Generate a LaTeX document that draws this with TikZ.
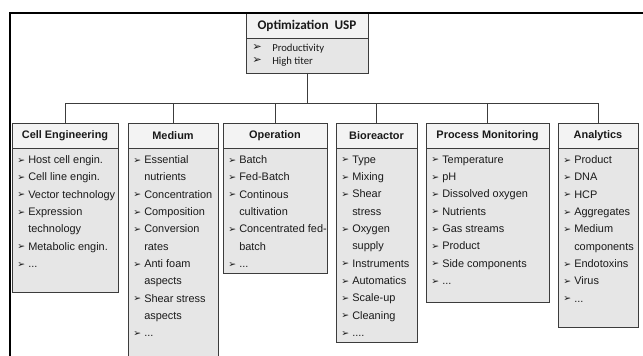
\documentclass[tikz,border=0pt]{standalone}
\usepackage{fontspec}
\setmainfont{Liberation Sans}
\newfontfamily\calfont{Carlito}
\newfontfamily\symfont{DejaVu Sans}
\usepackage{tikz}
\usetikzlibrary{calc,positioning}
\definecolor{ink}{HTML}{1A1A1A}
\definecolor{edge}{HTML}{3C3C3C}
\definecolor{headfill}{HTML}{F3F3F3}
\definecolor{bodyfill}{HTML}{E6E6E6}
\newcommand{\itm}{\makebox[8.25pt][l]{\raisebox{0.2pt}{\symfont\fontsize{7}{7}\selectfont\char"27A2}}}
\newcommand{\ind}{\hspace*{8.25pt}}
\newcommand{\topitm}{\makebox[15pt][l]{\raisebox{0.2pt}{\symfont\fontsize{8.5}{8.5}\selectfont\char"27A2}}}
\tikzset{
  head/.style={draw=edge, fill=headfill, line width=0.7pt, inner sep=0pt, outer sep=0pt,
    minimum height=18.75pt, font=\bfseries\fontsize{8.2}{10}\selectfont, text=ink},
  body/.style={draw=edge, fill=bodyfill, line width=0.7pt, inner sep=0pt, outer sep=0pt},
  items/.style={inner sep=0pt, align=left, text=ink, font=\fontsize{8.2}{13}\selectfont},
  link/.style={draw=edge, line width=0.7pt},
  frame/.style={draw=black, line width=1.5pt}
}

\begin{document}
\begin{tikzpicture}[x=0.75pt, y=-0.75pt]
  \useasboundingbox (0,0) rectangle (643,356);

  % top box
  \node[head, minimum width=91.5pt, font=\calfont\bfseries\fontsize{9.9}{11}\selectfont] (usp) at (307,25.5) {Optimization\ \ USP};
  \node[body, minimum width=91.5pt, minimum height=26.25pt, below=0pt of usp] (usp-b) {};
  \node[items, font=\calfont\fontsize{8}{9.75}\selectfont, below right=4pt and 4.5pt of usp-b.north west] (usp-t)
    {\topitm Productivity\\ \topitm High titer};

  % second level
  \node[head, minimum width=79.5pt] (ce) at (65,135.5) {Cell Engineering};
  \node[body, minimum width=79.5pt, minimum height=108pt, below=0pt of ce] (ce-b) {};
  \node[items, below right=5.5pt and 3.75pt of ce-b.north west] (ce-t)
    {\itm Host cell engin.\\ \itm Cell line engin.\\ \itm Vector technology\\ \itm Expression\\
     \ind technology\\ \itm Metabolic engin.\\ \itm ...};

  \node[head, minimum width=67.5pt] (med) at (173,135.5) {Medium};
  \node[body, minimum width=67.5pt, minimum height=159pt, below=0pt of med] (med-b) {};
  \node[items, below right=5.5pt and 3.75pt of med-b.north west] (med-t)
    {\itm Essential\\ \ind nutrients\\ \itm Concentration\\ \itm Composition\\ \itm Conversion\\
     \ind rates\\ \itm Anti foam\\ \ind aspects\\ \itm Shear stress\\ \ind aspects\\ \itm ...};

  \node[head, minimum width=78pt] (op) at (275,135.5) {Operation};
  \node[body, minimum width=78pt, minimum height=93.75pt, below=0pt of op] (op-b) {};
  \node[items, below right=5.5pt and 3.75pt of op-b.north west] (op-t)
    {\itm Batch\\ \itm Fed-Batch\\ \itm Continous\\ \ind cultivation\\ \itm Concentrated fed-\\
     \ind batch\\ \itm ...};

  \node[head, minimum width=60.75pt] (bio) at (376.5,135.5) {Bioreactor};
  \node[body, minimum width=60.75pt, minimum height=145.5pt, below=0pt of bio] (bio-b) {};
  \node[items, below right=5.5pt and 3.75pt of bio-b.north west] (bio-t)
    {\itm Type\\ \itm Mixing\\ \itm Shear\\ \ind stress\\ \itm Oxygen\\ \ind supply\\
     \itm Instruments\\ \itm Automatics\\ \itm Scale-up\\ \itm Cleaning\\ \itm ....};

  \node[head, minimum width=92.25pt] (pm) at (487.5,135.5) {Process Monitoring};
  \node[body, minimum width=92.25pt, minimum height=115.5pt, below=0pt of pm] (pm-b) {};
  \node[items, below right=5.5pt and 3.75pt of pm-b.north west] (pm-t)
    {\itm Temperature\\ \itm pH\\ \itm Dissolved oxygen\\ \itm Nutrients\\ \itm Gas streams\\
     \itm Product\\ \itm Side components\\ \itm ...};

  \node[head, minimum width=60pt] (ana) at (598,135.5) {Analytics};
  \node[body, minimum width=60pt, minimum height=134.25pt, below=0pt of ana] (ana-b) {};
  \node[items, below right=5.5pt and 3.75pt of ana-b.north west] (ana-t)
    {\itm Product\\ \itm DNA\\ \itm HCP\\ \itm Aggregates\\ \itm Medium\\ \ind components\\
     \itm Endotoxins\\ \itm Virus\\ \itm ...};

  % connectors
  \coordinate (bus) at (0,103);
  \draw[link] (usp-b.south) -- (usp-b.south |- bus);
  \draw[link] (ce.north) |- (bus -| ana.north) -- (ana.north);
  \foreach \n in {med,op,bio,pm}
    \draw[link] (\n.north) -- (\n.north |- bus);

  % outer frame
  \draw[frame] (10,357) -- (10,13) -- (644,13);
\end{tikzpicture}
\end{document}
